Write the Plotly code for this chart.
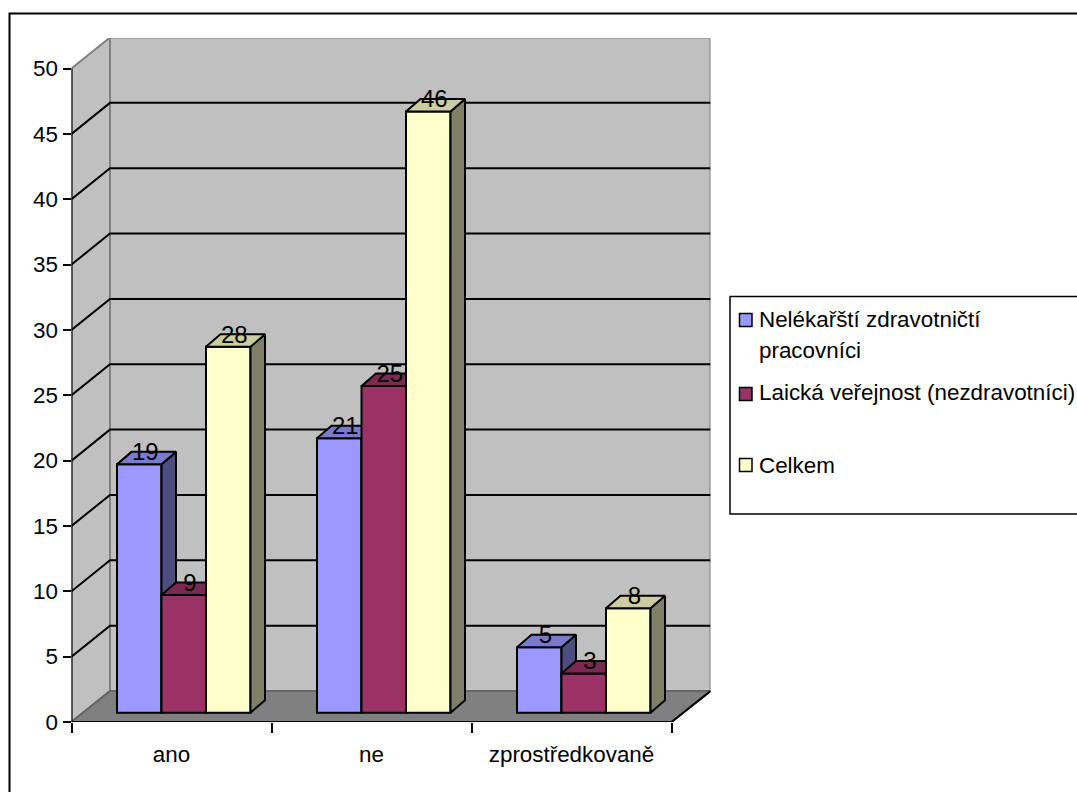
import plotly.graph_objects as go

# Survey counts per answer and respondent group
categories = ["ano", "ne", "zprostředkovaně"]
series_names = ["Nelékařští zdravotničtí<br>pracovníci", "Laická veřejnost (nezdravotníci)", "Celkem"]
nelekarsti = [19, 21, 5]
laicka = [9, 25, 3]
celkem = [28, 46, 8]
y_ticks = [0, 5, 10, 15, 20, 25, 30, 35, 40, 45, 50]

# Face colours: front, side, top
palette = [
    ("#9999FF", "#4D4D80", "#7A7ACC"),
    ("#993366", "#4D1A33", "#7A2952"),
    ("#FFFFCC", "#808066", "#CCCCA3"),
]

W, H = 1077, 792
FONT = "Liberation Sans, Arial, sans-serif"
FS = 22.4
LABEL_FS = 24

# Plot area in page pixels; the floor corner sits at value 0 and x = -0.5
PX_LEFT, PX_RIGHT, PX_TOP, PX_BOTTOM = 71.5, 710.5, 38.0, 722.0
PX_PER_CAT = 200.0
PX_PER_UNIT = 13.07
X0 = -0.5
X_END = X0 + (PX_RIGHT - PX_LEFT) / PX_PER_CAT
Y_END = (PX_BOTTOM - PX_TOP) / PX_PER_UNIT

# Oblique projection: wall depth and bar depth expressed in axis units
WALL_DX = 38.5 / PX_PER_CAT
WALL_DY = 31.0 / PX_PER_UNIT
BAR_DX = 14.5 / PX_PER_CAT
BAR_DY = 12.5 / PX_PER_UNIT
BAR_BASE = 9.3 / PX_PER_UNIT
BAR_W = 44.5 / PX_PER_CAT
GROUP_LEFT = -0.2725
LABEL_DROP = 2.5 / PX_PER_UNIT
N_CATS = len(categories)
Y_MAX = y_ticks[-1]


def poly(pts, fill, line, lw=2, xa="x", ya="y"):
    xs, ys = zip(*pts)
    return go.Scatter(
        x=list(xs) + [xs[0]], y=list(ys) + [ys[0]], mode="lines", fill="toself",
        fillcolor=fill, line=dict(color=line, width=lw), hoverinfo="skip",
        showlegend=False, xaxis=xa, yaxis=ya, cliponaxis=False,
    )


def path(pts, color, lw=2):
    xs, ys = zip(*pts)
    return go.Scatter(
        x=list(xs), y=list(ys), mode="lines", line=dict(color=color, width=lw),
        hoverinfo="skip", showlegend=False, cliponaxis=False,
    )


fig = go.Figure()

# Walls and floor
x_front_end = X0 + N_CATS
fig.add_trace(poly([(X0 + WALL_DX, WALL_DY), (X_END, WALL_DY), (X_END, Y_MAX + WALL_DY), (X0 + WALL_DX, Y_MAX + WALL_DY)],
                   "#C0C0C0", "#808080", 2))
fig.add_trace(poly([(X0, 0), (X0, Y_MAX), (X0 + WALL_DX, Y_MAX + WALL_DY), (X0 + WALL_DX, WALL_DY)],
                   "#C0C0C0", "#808080", 2))
fig.add_trace(poly([(X0, 0), (x_front_end, 0), (X_END, WALL_DY), (X0 + WALL_DX, WALL_DY)],
                   "#808080", "#666666", 2))

# Gridlines run along the side wall and across the back wall
for t in y_ticks[1:-1]:
    fig.add_trace(path([(X0, t), (X0 + WALL_DX, t + WALL_DY), (X_END, t + WALL_DY)], "black"))
fig.add_trace(path([(x_front_end, 0), (X_END, WALL_DY)], "black"))

# Axis lines stop at the front plane
fig.add_trace(path([(X0, Y_MAX), (X0, 0), (x_front_end, 0)], "black", 2))

# Each series sits in its own subplot above the walls, so later bars hide earlier side faces
for i, (values, name, (front, side, top)) in enumerate(zip([nelekarsti, laicka, celkem], series_names, palette)):
    xa = f"x{i + 2}"
    ya = f"y{i + 2}"
    fig.add_trace(go.Bar(
        x=list(range(N_CATS)), y=values, base=BAR_BASE, width=BAR_W,
        offset=GROUP_LEFT + i * BAR_W, name=name.replace("<br>", " "),
        marker=dict(color=front, line=dict(color="black", width=2)),
        showlegend=False, xaxis=xa, yaxis=ya,
    ))
    for c, v in enumerate(values):
        xl = c + GROUP_LEFT + i * BAR_W
        xr = xl + BAR_W
        yt = BAR_BASE + v
        fig.add_trace(poly([(xr, BAR_BASE), (xr + BAR_DX, BAR_BASE + BAR_DY), (xr + BAR_DX, yt + BAR_DY), (xr, yt)],
                           side, "black", 2, xa, ya))
        fig.add_trace(poly([(xl, yt), (xl + BAR_DX, yt + BAR_DY), (xr + BAR_DX, yt + BAR_DY), (xr, yt)],
                           top, "black", 2, xa, ya))

# Value labels on the back edge of each bar top
for i, values in enumerate([nelekarsti, laicka, celkem]):
    fig.add_trace(go.Scatter(
        x=[c + GROUP_LEFT + i * BAR_W + BAR_W / 2 + BAR_DX * 0.42 for c in range(N_CATS)],
        y=[BAR_BASE + v + BAR_DY - LABEL_DROP for v in values],
        text=[str(v) for v in values], mode="text", textposition="middle center",
        textfont=dict(family=FONT, size=LABEL_FS, color="black"),
        hoverinfo="skip", showlegend=False, xaxis="x4", yaxis="y4", cliponaxis=False,
    ))


def fx(px):
    return px / W


def fy(py):
    return 1 - py / H


x_range = [X0, X_END]
y_range = [0, Y_END]
hidden = dict(visible=False, autorange=False)

# Legend panel: frame, swatches and entries
legend_rows = [(320.0, 320.0), (394.0, 392.5), (465.0, 465.0)]
shapes = [
    dict(type="path", xref="paper", yref="paper",
         path=f"M {fx(9.5)} {fy(H)} L {fx(9.5)} {fy(13.5)} L 1 {fy(13.5)}",
         line=dict(color="black", width=2)),
    dict(type="path", xref="paper", yref="paper",
         path=f"M 1 {fy(296.5)} L {fx(730)} {fy(296.5)} L {fx(730)} {fy(514)} L 1 {fy(514)}",
         line=dict(color="black", width=1.5)),
]
annotations = []
for (sw_y, txt_y), name, (front, _, _) in zip(legend_rows, series_names, palette):
    shapes.append(dict(type="rect", xref="paper", yref="paper",
                       x0=fx(739.5), x1=fx(752), y0=fy(sw_y - 6.5), y1=fy(sw_y + 6.5),
                       fillcolor=front, line=dict(color="black", width=1.5)))
    first, *rest = name.split("<br>")
    annotations.append(dict(xref="paper", yref="paper", x=fx(757), y=fy(txt_y), text=first,
                            showarrow=False, xanchor="left", yanchor="middle",
                            font=dict(family=FONT, size=FS, color="black")))
    for line in rest:
        annotations.append(dict(xref="paper", yref="paper", x=fx(757), y=fy(txt_y + 31), text=line,
                                showarrow=False, xanchor="left", yanchor="middle",
                                font=dict(family=FONT, size=FS, color="black")))

overlay_axes = {}
for n in (2, 3, 4):
    overlay_axes[f"xaxis{n}"] = dict(overlaying="x", anchor=f"y{n}", range=x_range, **hidden)
    overlay_axes[f"yaxis{n}"] = dict(overlaying="y", anchor=f"x{n}", range=y_range, **hidden)

fig.update_layout(
    width=W, height=H, margin=dict(l=0, r=0, t=0, b=0, autoexpand=False), autosize=False,
    paper_bgcolor="white", plot_bgcolor="white", barmode="overlay", showlegend=False,
    font=dict(family=FONT, size=FS, color="black"),
    shapes=shapes, annotations=annotations,
    xaxis=dict(
        domain=[fx(PX_LEFT), fx(PX_RIGHT)], range=x_range, autorange=False, automargin=False,
        tickmode="array", tickvals=list(range(N_CATS)), ticktext=categories,
        ticks="", showgrid=False, zeroline=False, showline=False,
        ticklabelstandoff=17, tickfont=dict(family=FONT, size=FS, color="black"),
        minor=dict(tickmode="array", tickvals=[X0 + k for k in range(N_CATS + 1)],
                   ticks="outside", ticklen=10, tickwidth=2, tickcolor="black", showgrid=False),
    ),
    yaxis=dict(
        domain=[fy(PX_BOTTOM), fy(PX_TOP)], range=y_range, autorange=False, automargin=False,
        tickmode="array", tickvals=y_ticks, ticks="outside", ticklen=8, tickwidth=2,
        tickcolor="black", showgrid=False, zeroline=False, showline=False,
        tickfont=dict(family=FONT, size=FS, color="black"),
    ),
    **overlay_axes,
)

fig.write_html("out.html")
